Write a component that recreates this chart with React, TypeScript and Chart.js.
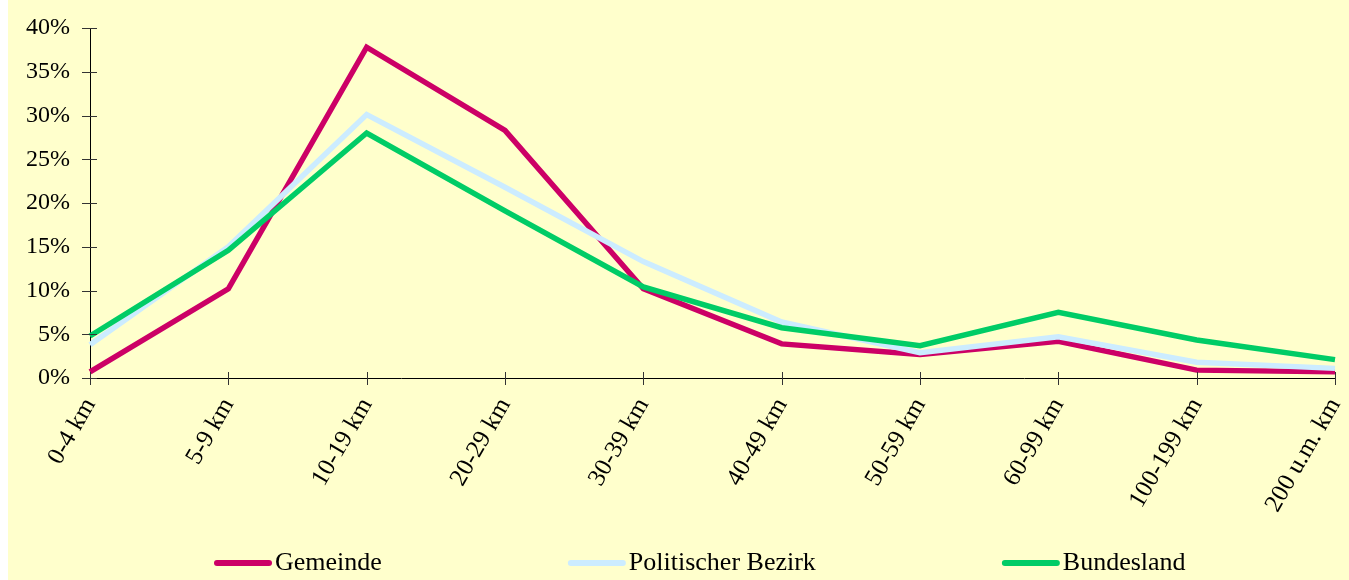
import React, { useEffect, useRef } from "react";
import { Chart, registerables } from "chart.js";

Chart.register(...registerables);

const categories = ["0-4 km", "5-9 km", "10-19 km", "20-29 km", "30-39 km", "40-49 km", "50-59 km", "60-99 km", "100-199 km", "200 u.m. km"];
const gemeinde = [0.7, 10.2, 37.8, 28.3, 10.2, 3.9, 2.7, 4.2, 0.9, 0.7];
const bezirk = [3.8, 15.0, 30.1, 21.8, 13.3, 6.4, 2.9, 4.7, 1.8, 1.1];
const bundesland = [4.8, 14.6, 28.0, 19.1, 10.4, 5.75, 3.7, 7.5, 4.35, 2.1];
const seriesNames = ["Gemeinde", "Politischer Bezirk", "Bundesland"];
const seriesColors = ["#CC0066", "#CCECFF", "#00CC66"];

const FONT = "'Liberation Serif', 'Times New Roman', serif";

const crossTicks = {
  id: "crossTicks",
  afterDraw(chart: any) {
    const ctx = chart.ctx;
    const x = chart.scales.x;
    const y = chart.scales.y;
    const area = chart.chartArea;
    ctx.save();
    ctx.strokeStyle = "#333";
    ctx.lineWidth = 1;
    y.ticks.forEach((t: any) => {
      const py = Math.round(y.getPixelForValue(t.value)) + 0.5;
      ctx.beginPath();
      ctx.moveTo(area.left - 8, py);
      ctx.lineTo(area.left + 7, py);
      ctx.stroke();
    });
    x.ticks.forEach((_t: any, i: number) => {
      const px = Math.round(x.getPixelForValue(i)) + 0.5;
      ctx.beginPath();
      ctx.moveTo(px, area.bottom - 6);
      ctx.lineTo(px, area.bottom + 7);
      ctx.stroke();
    });
    ctx.restore();
  },
};

const customLegend = {
  id: "customLegend",
  afterDraw(chart: any) {
    const ctx = chart.ctx;
    ctx.save();
    ctx.font = `26px ${FONT}`;
    ctx.textBaseline = "middle";
    ctx.textAlign = "left";
    const lineW = 58;
    const textGap = 3;
    const itemGap = 186;
    const widths = seriesNames.map((n) => lineW + textGap + ctx.measureText(n).width);
    let xPos = 206;
    const yPos = 563;
    seriesNames.forEach((n, i) => {
      ctx.strokeStyle = seriesColors[i];
      ctx.lineWidth = 6;
      ctx.lineCap = "round";
      ctx.beginPath();
      ctx.moveTo(xPos + 3, yPos);
      ctx.lineTo(xPos + lineW - 3, yPos);
      ctx.stroke();
      ctx.fillStyle = "#000";
      ctx.fillText(n, xPos + lineW + textGap, yPos);
      xPos += widths[i] + itemGap;
    });
    ctx.restore();
  },
};

export default function App() {
  const ref = useRef<HTMLCanvasElement | null>(null);
  useEffect(() => {
    if (!ref.current) return;
    const series = [gemeinde, bezirk, bundesland];
    const chart = new Chart(ref.current, {
      type: "line",
      data: {
        labels: categories,
        datasets: series.map((d, i) => ({
          label: seriesNames[i],
          data: d,
          borderColor: seriesColors[i],
          backgroundColor: seriesColors[i],
          borderWidth: 5.5,
          pointRadius: 0,
          tension: 0,
          borderJoinStyle: "miter" as const,
          order: 2 - i,
          clip: false as any,
        })),
      },
      options: {
        animation: false,
        responsive: false,
        maintainAspectRatio: false,
        layout: { padding: { top: 28, right: 14, bottom: 0, left: 0 } },
        plugins: { legend: { display: false }, tooltip: { enabled: false } },
        scales: {
          x: {
            offset: false,
            grid: { display: false, drawTicks: false },
            border: { display: true, color: "#000", width: 1 },
            ticks: {
              color: "#000",
              font: { family: FONT, size: 25 },
              minRotation: 60,
              maxRotation: 60,
              padding: 15,
              autoSkip: false,
            },
            afterFit: (s: any) => {
              s.height = 202;
              s.paddingLeft = 0;
              s.paddingRight = 0;
            },
          },
          y: {
            min: 0,
            max: 40,
            grid: { display: false, drawTicks: false },
            border: { display: true, color: "#000", width: 1 },
            ticks: {
              stepSize: 5,
              color: "#000",
              font: { family: FONT, size: 24 },
              padding: 20,
              callback: (v: any) => `${v}%`,
            },
            afterFit: (s: any) => {
              s.width = 82;
              s.paddingTop = 0;
              s.paddingBottom = 0;
            },
          },
        },
      },
      plugins: [crossTicks, customLegend],
    });
    return () => chart.destroy();
  }, []);
  return (
    <div style={{ position: "absolute", left: 8, top: 0, width: 1341, height: 580, background: "#FFFFCC" }}>
      <canvas ref={ref} width={1341} height={580} style={{ display: "block" }} />
    </div>
  );
}
